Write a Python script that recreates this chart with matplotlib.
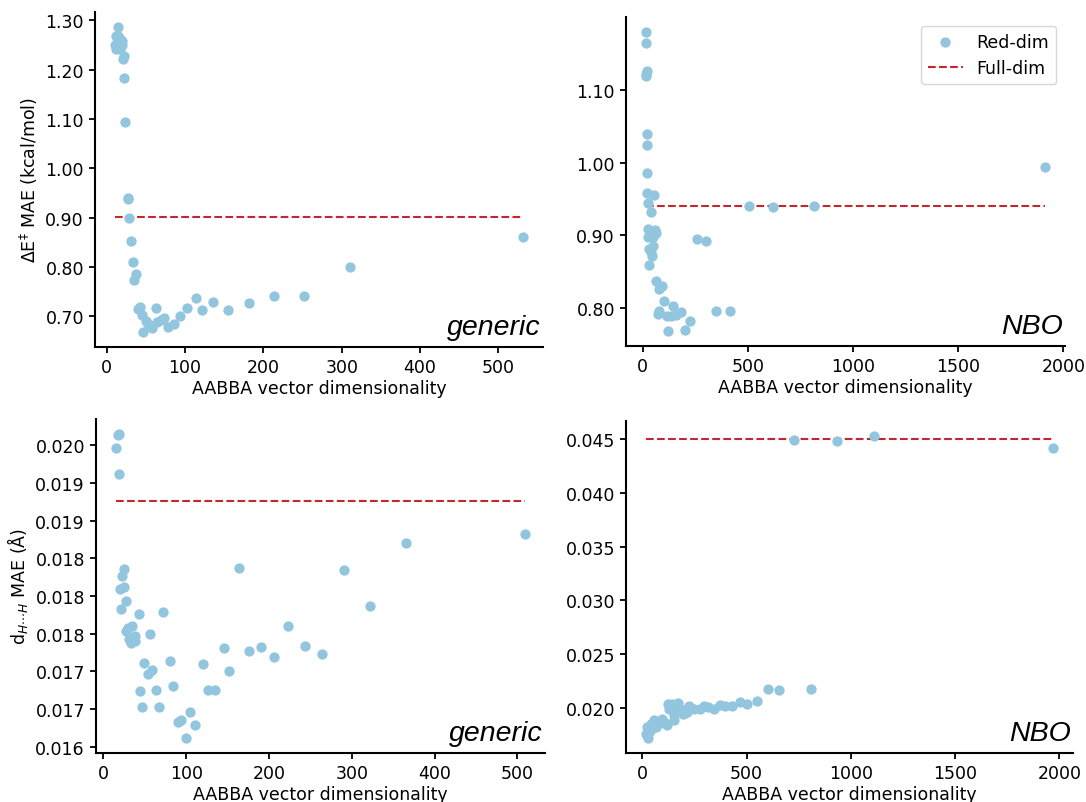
import matplotlib
matplotlib.use("Agg")
import matplotlib.pyplot as plt
from matplotlib.ticker import FixedLocator, FixedFormatter, FormatStrFormatter

# ---------------- data ----------------
# Top-left: generic, activation energy MAE
tl_x = [14.6, 12, 15, 18, 13, 11, 19, 14, 12, 17, 20, 16, 22, 21, 22.4, 23.3, 26.5, 27,
        28.3, 30.6, 33.4, 37, 35.2, 39.3, 42.5, 44.8, 46, 50.7, 53, 57.6, 63, 64.4, 69,
        72.7, 78, 86.4, 93.7, 102, 113.8, 121, 136, 155, 181, 213, 252, 310, 531]
tl_y = [1.286, 1.268, 1.268, 1.261, 1.255, 1.251, 1.251, 1.244, 1.241, 1.241, 1.258, 1.264,
        1.227, 1.221, 1.183, 1.093, 0.941, 0.937, 0.900, 0.853, 0.810, 0.786, 0.773, 0.716,
        0.719, 0.702, 0.669, 0.690, 0.685, 0.676, 0.717, 0.688, 0.692, 0.697, 0.678, 0.685,
        0.701, 0.717, 0.738, 0.714, 0.729, 0.714, 0.727, 0.741, 0.741, 0.800, 0.862]
tl_full = 0.901

# Top-right: NBO, activation energy MAE
tr_x = [16, 16, 18, 15, 16, 21, 21, 22, 22, 52, 24, 40, 27, 57, 64, 37, 25, 49, 48, 29,
        37, 45, 30, 65, 92, 79, 100, 145, 78, 70, 116, 132, 160, 180, 226, 119, 199, 256,
        299, 350, 417, 507, 620, 814, 1913]
tr_y = [1.179, 1.164, 1.125, 1.122, 1.119, 1.039, 1.024, 0.985, 0.958, 0.955, 0.944, 0.932,
        0.909, 0.907, 0.903, 0.900, 0.898, 0.898, 0.886, 0.882, 0.878, 0.872, 0.860, 0.838,
        0.831, 0.827, 0.810, 0.803, 0.796, 0.792, 0.789, 0.789, 0.791, 0.795, 0.783, 0.769,
        0.770, 0.895, 0.893, 0.797, 0.797, 0.941, 0.939, 0.941, 0.994]
tr_full = 0.941

# Bottom-left: generic, H...H distance MAE
bl_x = [17.3, 18.5, 15.6, 18.6, 24.7, 22.5, 19.5, 24.2, 26.8, 20.8, 42.4, 71.4, 34.6, 30,
        26.8, 31, 33.5, 38, 38, 56.3, 49.4, 53.2, 58.9, 43.7, 63.2, 46.3, 67.5, 80.5, 84.4,
        90.5, 94, 100, 104.3, 110.4, 120.3, 126.8, 134.2, 145, 152, 164, 176, 190, 206, 223,
        243.7, 264.5, 291, 322.5, 365, 508.7]
bl_y = [0.02014, 0.02015, 0.019965, 0.019624, 0.018358, 0.018261, 0.018093, 0.018119,
        0.017934, 0.017827, 0.017761, 0.017783, 0.017602, 0.017575, 0.017535, 0.017434,
        0.017376, 0.017398, 0.017465, 0.017500, 0.017115, 0.016969, 0.017013, 0.016743,
        0.016752, 0.016527, 0.016527, 0.017142, 0.016805, 0.016332, 0.016358, 0.016119,
        0.016465, 0.016283, 0.017102, 0.016757, 0.016757, 0.017305, 0.017004, 0.018367,
        0.017270, 0.017323, 0.017190, 0.017597, 0.017332, 0.017235, 0.018350, 0.017863,
        0.018699, 0.018819]
bl_full = 0.019265
bl_ticks = [0.0160, 0.0165, 0.0170, 0.0175, 0.0180, 0.0185, 0.0190, 0.0195, 0.0200]
bl_ticklabels = ["0.016", "0.017", "0.017", "0.018", "0.018", "0.018", "0.019", "0.019", "0.020"]

# Bottom-right: NBO, H...H distance MAE
br_x = [729, 933, 1112, 1968, 604, 657, 811, 548, 503, 466, 430, 397, 370, 344, 316, 297,
        275, 249, 223, 212, 196, 172, 156, 140, 124, 164, 152, 152, 117, 92, 100, 76, 67,
        56, 40, 24, 31, 35, 27, 19, 45, 185, 205, 130, 110, 85]
br_y = [0.04497, 0.04482, 0.04531, 0.04420, 0.02170, 0.02161, 0.02173, 0.02062, 0.02037,
        0.02053, 0.02015, 0.02015, 0.02022, 0.01991, 0.02006, 0.02015, 0.01991, 0.01991,
        0.02015, 0.01960, 0.01944, 0.02043, 0.02022, 0.02031, 0.02031, 0.01975, 0.01935,
        0.01882, 0.01842, 0.01898, 0.01873, 0.01852, 0.01820, 0.01882, 0.01852, 0.01820,
        0.01789, 0.01780, 0.01718, 0.01758, 0.01830, 0.01990, 0.01950, 0.01990, 0.01860,
        0.01870]
br_full = 0.0450

xlabel = "AABBA vector dimensionality"
ylabel_top = r"$\Delta$E$^{\ddagger}$ MAE (kcal/mol)"
ylabel_bot = r"d$_{H\cdots H}$ MAE (Å)"
legend_labels = ["Red-dim", "Full-dim"]

# ---------------- style ----------------
BLUE = "#92c5de"
RED = "#c1272d"
plt.rcParams.update({
    "font.family": ["DejaVu Sans"],
    "font.size": 12.5,
    "axes.linewidth": 1.5,
    "xtick.major.width": 1.3,
    "ytick.major.width": 1.3,
    "xtick.major.size": 4.5,
    "ytick.major.size": 4.5,
    "xtick.labelsize": 12.5,
    "ytick.labelsize": 12.5,
    "axes.labelsize": 12.5,
})

fig = plt.figure(figsize=(10.86, 8.03), dpi=100)
W, H = 1086, 803
def box(l, r, t, b):
    return [l / W, 1 - b / H, (r - l) / W, (b - t) / H]

ax_tl = fig.add_axes(box(95, 543, 13, 348))
ax_tr = fig.add_axes(box(626, 1065, 18, 347))
ax_bl = fig.add_axes(box(96, 545, 420, 754))
ax_br = fig.add_axes(box(626, 1073, 422, 754))

panels = [
    (ax_tl, tl_x, tl_y, tl_full, "generic"),
    (ax_tr, tr_x, tr_y, tr_full, "NBO"),
    (ax_bl, bl_x, bl_y, bl_full, "generic"),
    (ax_br, br_x, br_y, br_full, "NBO"),
]

for ax, x, y, full, tag in panels:
    ax.scatter(x, y, s=55, color=BLUE, zorder=3, label=legend_labels[0], linewidths=0)
    ax.plot([min(x), max(x)], [full, full], linestyle="--", color=RED, lw=1.5,
            zorder=2, label=legend_labels[1])
    ax.spines["top"].set_visible(False)
    ax.spines["right"].set_visible(False)
    ax.set_xlabel(xlabel, labelpad=2)
    ax.text(0.995, 0.02, tag, transform=ax.transAxes, ha="right", va="bottom",
            fontsize=20.5, style="italic", family="Liberation Sans", zorder=4)

ax_tl.set_ylabel(ylabel_top)
ax_bl.set_ylabel(ylabel_bot)

ax_tl.yaxis.set_major_formatter(FormatStrFormatter("%.2f"))
ax_tr.yaxis.set_major_formatter(FormatStrFormatter("%.2f"))
ax_br.yaxis.set_major_formatter(FormatStrFormatter("%.3f"))
ax_bl.yaxis.set_major_locator(FixedLocator(bl_ticks))
ax_bl.yaxis.set_major_formatter(FixedFormatter(bl_ticklabels))

ax_tr.legend(loc="upper right", scatterpoints=1, fontsize=12.5, handlelength=2.0)

fig.savefig("out.png", dpi=100)
